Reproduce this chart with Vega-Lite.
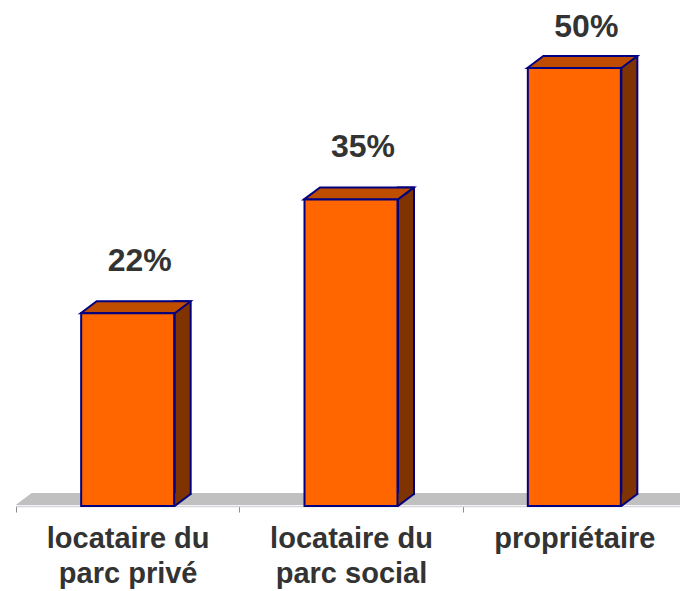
{"$schema":"https://vega.github.io/schema/vega-lite/v6.json","width":670,"height":481.8,"autosize":{"type":"none"},"padding":{"left":16,"top":24.2,"right":0,"bottom":85},"background":"white","view":{"stroke":null},"data":{"values":[{"statut":"locataire du\nparc privé","part":22},{"statut":"locataire du\nparc social","part":35},{"statut":"propriétaire","part":50}]},"encoding":{"x":{"field":"statut","type":"nominal","sort":null,"scale":{"paddingInner":0,"paddingOuter":0},"axis":{"title":null,"labelAngle":0,"labelExpr":"split(datum.label,'\\n')","labelFont":"Liberation Sans","labelFontSize":29,"labelFontWeight":"bold","labelColor":"#333333","labelPadding":12,"labelLineHeight":35,"domainColor":"#d4d4dc","domainWidth":1.5,"tickColor":"#8c8c8c","tickSize":6,"tickBand":"extent","labelLimit":300,"grid":false}},"y":{"field":"part","type":"quantitative","scale":{"domain":[0,55]},"axis":null}},"layer":[{"transform":[{"filter":"datum.part==22"}],"mark":{"type":"point","filled":true,"size":4,"opacity":1,"fill":"#c0c0c0","strokeWidth":0,"shape":"M-112 -1 L-96 -13 L560 -13 L560 -1 Z"},"encoding":{"y":{"datum":0,"type":"quantitative"}}},{"mark":{"type":"bar","size":16,"xOffset":55,"yOffset":-12,"y2Offset":-12,"fill":"#7f3300","stroke":"#000080","strokeWidth":2}},{"mark":{"type":"point","filled":true,"size":4,"opacity":1,"fill":"#7f3300","strokeWidth":0,"shape":"M47 1 L47 -13 L62 -13 L62 -11.5 Z"},"encoding":{"y":{"datum":0,"type":"quantitative"}}},{"mark":{"type":"point","filled":false,"size":4,"opacity":1,"fill":"transparent","stroke":"#000080","strokeWidth":2,"shape":"M47 0 L63 -12"},"encoding":{"y":{"datum":0,"type":"quantitative"}}},{"mark":{"type":"point","filled":true,"size":4,"opacity":1,"fill":"#bf4d00","stroke":"#000080","strokeWidth":2,"shape":"M-47 0 L-31 -12 L63 -12 L47 0 Z"}},{"mark":{"type":"bar","size":93,"fill":"#ff6600","stroke":"#000080","strokeWidth":2}},{"transform":[{"filter":"datum.part<50"},{"calculate":"datum.part+'%'","as":"lab"}],"mark":{"type":"text","font":"Liberation Sans","fontWeight":"bold","fontSize":32,"color":"#333333","dy":-52,"dx":12},"encoding":{"text":{"field":"lab","type":"nominal"}}},{"transform":[{"filter":"datum.part==50"},{"calculate":"datum.part+'%'","as":"lab"}],"mark":{"type":"text","font":"Liberation Sans","fontWeight":"bold","fontSize":32,"color":"#333333","dy":-41,"dx":12},"encoding":{"text":{"field":"lab","type":"nominal"}}}]}
